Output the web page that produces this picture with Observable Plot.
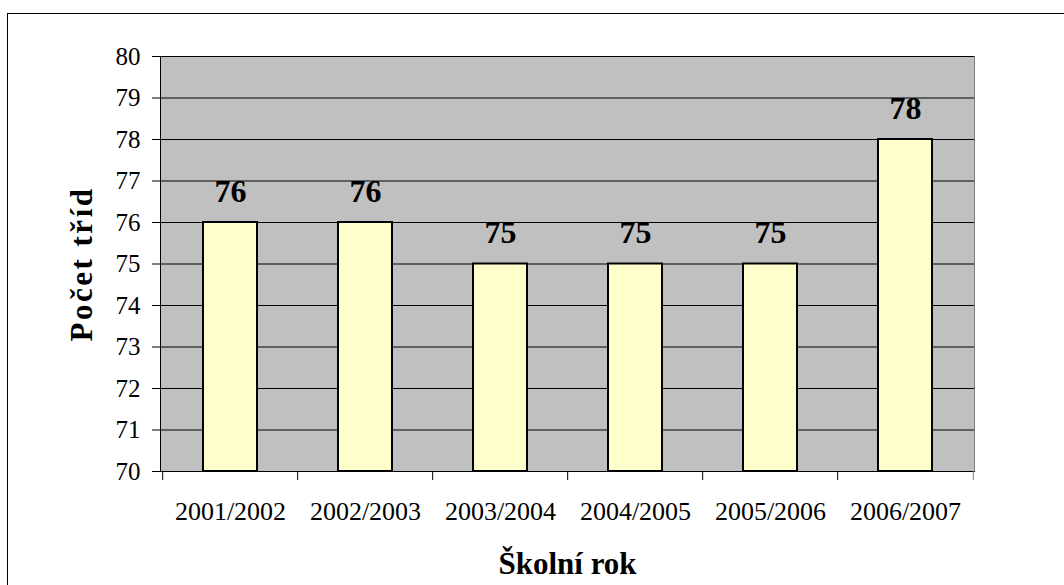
<!DOCTYPE html>
<html>
<head>
<meta charset="utf-8">
<script src="https://cdn.jsdelivr.net/npm/d3@7"></script>
<script src="https://cdn.jsdelivr.net/npm/@observablehq/plot@0.6"></script>
<style>
  html, body { margin: 0; padding: 0; background: #fff; overflow: hidden; }
  #wrap { position: relative; width: 1064px; height: 585px; }
  #border { position: absolute; left: 7px; top: 13px; width: 1100px; height: 600px; border: 1px solid #000; box-sizing: border-box; pointer-events: none; }
  svg, svg text { font-family: "Liberation Serif", "Times New Roman", serif !important; }
</style>
</head>
<body>
<div id="wrap"><div id="border"></div></div>
<script>
const years = ["2001/2002", "2002/2003", "2003/2004", "2004/2005", "2005/2006", "2006/2007"];
const classes = [76, 76, 75, 75, 75, 78];
const yTicks = [70, 71, 72, 73, 74, 75, 76, 77, 78, 79, 80];
const xTitle = "Školní rok";
const yTitle = "Počet tříd";

const data = years.map((year, i) => ({year, value: classes[i]}));
const W = 1064, H = 585, ML = 160, MR = 90, MT = 56, MB = 114;
const step = (W - ML - MR) / years.length;
const yMin = yTicks[0], yMax = yTicks[yTicks.length - 1];
const serif = "'Liberation Serif', 'Times New Roman', serif";

const chart = Plot.plot({
  width: W, height: H,
  marginLeft: ML, marginRight: MR, marginTop: MT, marginBottom: MB,
  style: {fontFamily: serif, background: "transparent", color: "#000"},
  x: {domain: years, paddingInner: 0.6, paddingOuter: 0.3},
  y: {domain: [yMin, yMax]},
  marks: [
    Plot.frame({fill: "#C0C0C0", stroke: null}),
    Plot.gridY(yTicks, {stroke: "#000", strokeOpacity: 1, strokeWidth: 1}),
    Plot.frame({anchor: "right", stroke: "#808080"}),
    Plot.barY(data, {x: "year", y1: yMin, y2: "value", fill: "#FFFFCC", stroke: "#000", strokeWidth: 2}),
    Plot.text(data, {x: "year", y: "value", text: d => String(d.value), fontSize: 32, fontWeight: "bold", lineAnchor: "bottom", dy: -21}),
    Plot.frame({anchor: "left", stroke: "#000"}),
    Plot.frame({anchor: "bottom", stroke: "#000"}),
    Plot.axisY(yTicks, {tickSize: 8, tickPadding: 12, fontSize: 25, label: null}),
    Plot.axisX({tickSize: 0, tickPadding: 30, fontSize: 26, label: null}),
    Plot.axisX(years, {tickSize: 9, text: null, dx: -step / 2, label: null}),
    Plot.axisX([years[years.length - 1]], {tickSize: 9, text: null, dx: step / 2, label: null, stroke: "#808080"}),
    Plot.text([xTitle], {frameAnchor: "bottom", dy: 102, fontSize: 31, fontWeight: "bold", lineAnchor: "bottom"}),
    Plot.text([yTitle], {frameAnchor: "left", textAnchor: "middle", dx: -78, rotate: -90, fontSize: 31, fontWeight: "bold", lineAnchor: "middle", className: "ytitle"})
  ]
});
d3.select(chart).selectAll("text").style("font-family", serif);
d3.select(chart).selectAll("g.ytitle text").attr("letter-spacing", "2.5px");
document.getElementById("wrap").prepend(chart);
</script>
</body>
</html>
